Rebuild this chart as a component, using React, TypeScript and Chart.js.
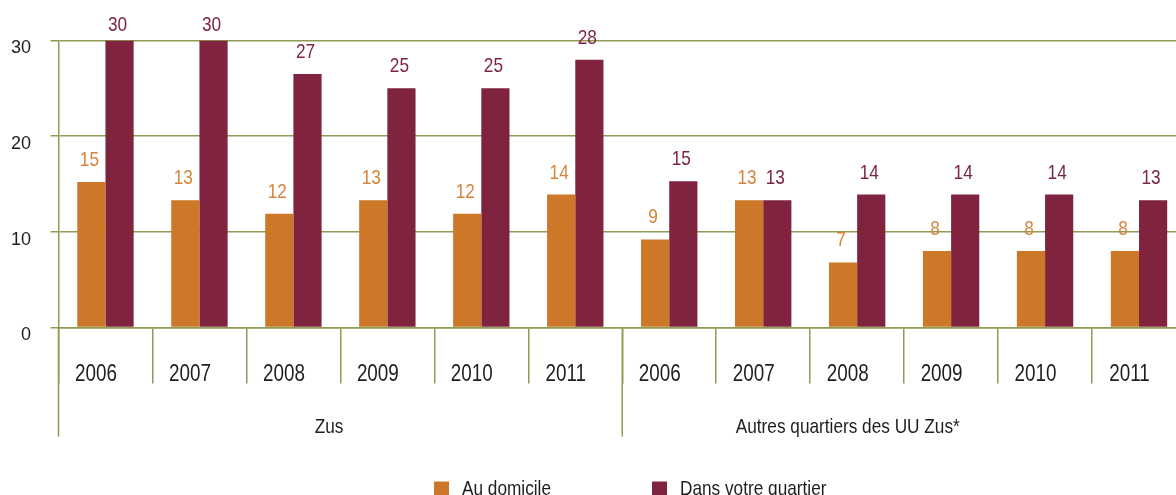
import React, { useEffect, useRef } from "react";
import { Chart, registerables } from "chart.js";

Chart.register(...registerables);

// ---- data ----
const years = ["2006", "2007", "2008", "2009", "2010", "2011", "2006", "2007", "2008", "2009", "2010", "2011"];
const groupNames = ["Zus", "Autres quartiers des UU Zus*"];
const seriesNames = ["Au domicile", "Dans votre quartier"];
const auDomicile = [15.2, 13.3, 11.9, 13.3, 11.9, 13.9, 9.2, 13.3, 6.8, 8.0, 8.0, 8.0];
const dansVotreQuartier = [30.0, 30.0, 26.5, 25.0, 25.0, 28.0, 15.3, 13.3, 13.9, 13.9, 13.9, 13.3];
const yMin = 0;
const yMax = 30;
const yStep = 10;

// ---- styles ----
const SANS = '"Liberation Sans", Arial, sans-serif';
const NARROW_SCALE = 0.82;
const GRID = "#8f9b52";
const BAR_COLORS = ["#cd7729", "#80233f"];
const LABEL_COLORS = ["#d6843a", "#7d2443"];
const TEXT = "#1e1e1e";

function narrowText(ctx: CanvasRenderingContext2D, text: string, x: number, y: number, size: number, align: CanvasTextAlign, color: string) {
  ctx.save();
  ctx.font = `${size}px ${SANS}`;
  ctx.textAlign = align;
  ctx.textBaseline = "alphabetic";
  ctx.fillStyle = color;
  ctx.translate(x, y);
  ctx.scale(NARROW_SCALE, 1);
  ctx.fillText(text, 0, 0);
  ctx.restore();
}

const decorPlugin = {
  id: "decor",
  afterDraw(chart: any) {
    const { ctx, chartArea } = chart;
    const xs = chart.scales.x;
    ctx.save();

    // value labels above bars
    chart.data.datasets.forEach((ds: any, di: number) => {
      const meta = chart.getDatasetMeta(di);
      meta.data.forEach((bar: any, i: number) => {
        const v = ds.data[i];
        const yb = Math.max(bar.y - 16, chartArea.top - 10);
        narrowText(ctx, String(Math.round(v)), bar.x - 2, yb, 21, "center", LABEL_COLORS[di]);
      });
    });

    // year labels (category ticks)
    const labels: string[] = chart.data.labels;
    labels.forEach((lab, i) => {
      narrowText(ctx, lab, xs.getPixelForValue(i) - 9.5, xs.top + 53.5, 23, "center", TEXT);
    });

    // group separator lines
    ctx.strokeStyle = GRID;
    ctx.lineWidth = 1.5;
    const n = labels.length;
    const half = n / 2;
    const bounds = [xs.getPixelForValue(-0.5), xs.getPixelForValue(half - 0.5), xs.getPixelForValue(n - 0.5)];
    const lineBottom = xs.top + 109;
    bounds.forEach((bx: number) => {
      ctx.beginPath();
      ctx.moveTo(bx, xs.top);
      ctx.lineTo(bx, lineBottom);
      ctx.stroke();
    });

    // group labels
    const groupPos = [2.38, 7.9];
    groupNames.forEach((g, gi) => {
      narrowText(ctx, g, xs.getPixelForValue(groupPos[gi]), xs.top + 105, 21, "center", TEXT);
    });

    // legend
    const legendX = [434, 652];
    const legendTop = 481.5;
    chart.data.datasets.forEach((ds: any, di: number) => {
      ctx.fillStyle = BAR_COLORS[di];
      ctx.fillRect(legendX[di], legendTop, 15, 15);
      narrowText(ctx, ds.label, legendX[di] + 28, legendTop + 13.5, 21, "left", TEXT);
    });

    ctx.restore();
  },
};

export default function App() {
  const ref = useRef<HTMLCanvasElement | null>(null);

  useEffect(() => {
    if (!ref.current) return;
    const chart = new Chart(ref.current, {
      type: "bar",
      data: {
        labels: years,
        datasets: [
          {
            label: seriesNames[0],
            data: auDomicile,
            backgroundColor: BAR_COLORS[0],
            borderWidth: 0,
            categoryPercentage: 0.6,
            barPercentage: 1.0,
          },
          {
            label: seriesNames[1],
            data: dansVotreQuartier,
            backgroundColor: BAR_COLORS[1],
            borderWidth: 0,
            categoryPercentage: 0.6,
            barPercentage: 1.0,
          },
        ],
      },
      options: {
        responsive: false,
        animation: false,
        devicePixelRatio: 1,
        layout: { padding: { top: 40.5, right: 4, left: 0, bottom: 0 } },
        plugins: {
          legend: { display: false },
          tooltip: { enabled: false },
        },
        scales: {
          x: {
            type: "category",
            offset: true,
            border: { display: true, color: GRID, width: 1.5 },
            grid: {
              offset: true,
              drawOnChartArea: false,
              drawTicks: true,
              tickLength: 56,
              color: GRID,
              lineWidth: 1.5,
            },
            ticks: {
              display: false,
            },
            afterFit: (s: any) => {
              s.height = 177.5;
            },
          },
          y: {
            min: yMin,
            max: yMax,
            border: { display: true, color: GRID, width: 1.5 },
            grid: {
              color: GRID,
              lineWidth: 1.5,
              drawTicks: true,
              tickLength: 8,
            },
            ticks: {
              stepSize: yStep,
              font: { family: SANS, size: 18 },
              color: TEXT,
              padding: 19.5,
              labelOffset: 8,
              crossAlign: "near",
            },
            afterFit: (s: any) => {
              s.width = 58.5;
            },
          },
        },
      },
      plugins: [decorPlugin],
    });
    return () => chart.destroy();
  }, []);

  return (
    <div
      style={{
        position: "absolute",
        left: 0,
        top: 0,
        width: 1176,
        height: 495,
        overflow: "hidden",
        background: "#ffffff",
      }}
    >
      <canvas ref={ref} width={1190} height={505} style={{ display: "block" }} />
    </div>
  );
}
